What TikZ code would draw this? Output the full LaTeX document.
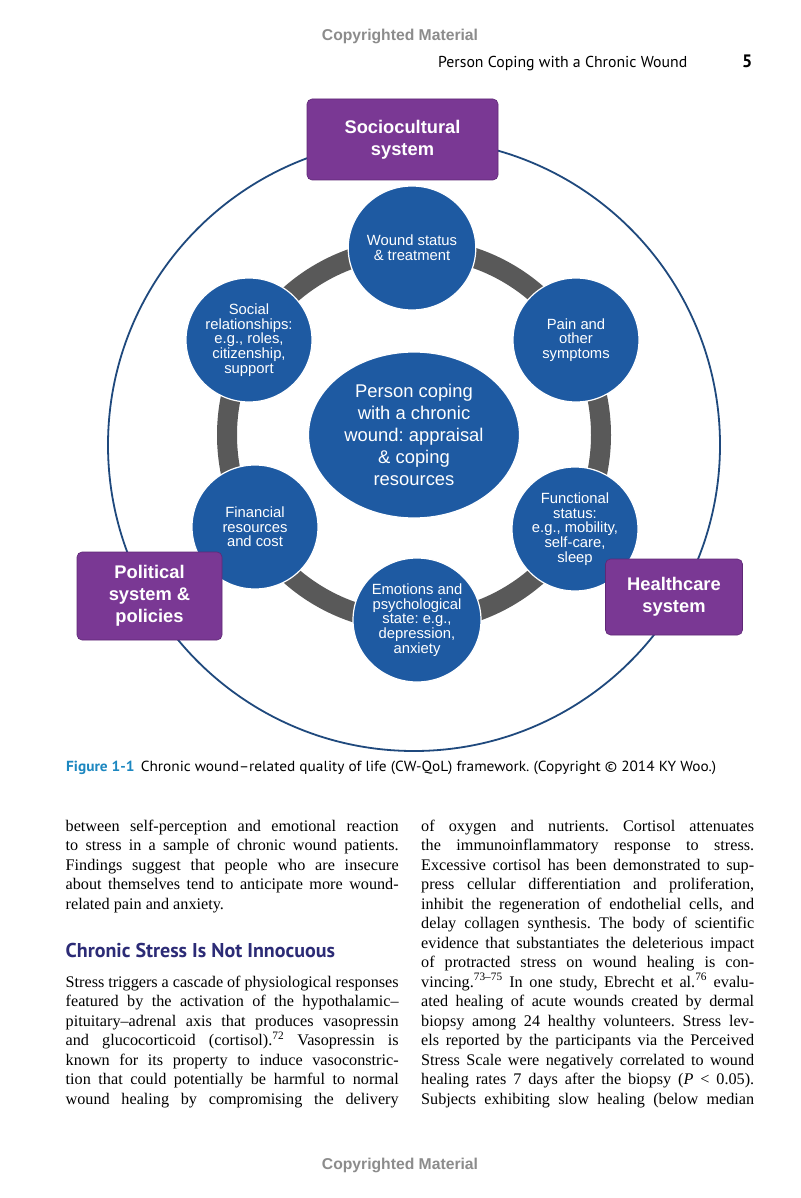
\documentclass[tikz,border=0pt]{standalone}
\usepackage{fontspec}
\setmainfont{Liberation Serif}
\setsansfont{Liberation Sans}
\newfontfamily\arialf{Liberation Sans}
\newfontfamily\ptsans{PT Sans}
\usetikzlibrary{shapes.geometric}
\definecolor{nodeblue}{RGB}{30,90,162}
\definecolor{boxpurple}{RGB}{122,56,148}
\definecolor{boxedge}{RGB}{95,40,118}
\definecolor{ringgray}{RGB}{89,89,89}
\definecolor{outerblue}{RGB}{31,73,125}
\definecolor{capblue}{RGB}{28,135,192}
\definecolor{headnavy}{RGB}{44,43,118}
\definecolor{copygray}{RGB}{140,140,140}
\newlength\colw
\setlength\colw{333pt}
\newcommand\jl[1]{\makebox[\colw][s]{#1}}
\newcommand\rl[1]{\makebox[\colw][l]{#1}}
\frenchspacing
\begin{document}
\begin{tikzpicture}[x=1pt,y=-1pt,
  bubble/.style={ellipse, fill=nodeblue, draw=white, line width=1.2pt, inner sep=0pt,
    minimum width=126pt, minimum height=124pt, text=white, align=center,
    font=\arialf\fontsize{14.8}{14.7}\selectfont},
  bigbubble/.style={bubble, minimum width=211pt, minimum height=166pt,
    font=\arialf\fontsize{18.4}{22}\selectfont},
  sysbox/.style={rectangle, rounded corners=5pt, fill=boxpurple, draw=boxedge, line width=0.6pt,
    inner sep=0pt, text=white, align=center,
    font=\arialf\bfseries\fontsize{18.3}{22}\selectfont},
  bodyline/.style={anchor=base west, inner sep=0pt, font=\fontsize{16.2}{19.5}\selectfont\frenchspacing},
  copy/.style={text=copygray, inner sep=0pt, font=\arialf\bfseries\fontsize{15.7}{17}\selectfont}
]
\useasboundingbox[fill=white] (0,0) rectangle (800,1198);

% header
\node[copy, anchor=base] (copytop) at (400,41) {Copyrighted Material};
\node[anchor=base west, inner sep=0pt, font=\ptsans\fontsize{15.8}{17}\selectfont] (runhead) at (438,68) {Person Coping with a Chronic Wound};
\node[anchor=base west, inner sep=0pt, font=\ptsans\bfseries\fontsize{18}{20}\selectfont] (pagenum) at (742,68) {5};

% diagram
\draw[outerblue, line width=1.8pt] (414,445) circle[radius=306];
\draw[ringgray, line width=20pt] (414,435) circle[radius=187];

\node[bigbubble] (center) at (414,435) {Person coping\\with a chronic\\wound: appraisal\\\& coping\\resources};
\node[bubble] (wound) at (412,248) {Wound status\\\& treatment};
\node[bubble] (pain) at (576,340) {Pain and\\other\\symptoms};
\node[bubble] (func) at (575,529) {Functional\\status:\\e.g., mobility,\\self-care,\\sleep};
\node[bubble] (emo) at (417,620) {Emotions and\\psychological\\state: e.g.,\\depression,\\anxiety};
\node[bubble] (fin) at (255,527) {Financial\\resources\\and cost};
\node[bubble] (social) at (249,340) {Social\\relationships:\\e.g., roles,\\citizenship,\\support};

\node[sysbox, minimum width=191pt, minimum height=81pt] (socio) at (402.5,139.5) {Sociocultural\\system};
\node[sysbox, minimum width=145pt, minimum height=88pt] (polit) at (149.5,596) {Political\\system \&\\policies};
\node[sysbox, minimum width=137pt, minimum height=76pt] (health) at (674,597) {Healthcare\\system};

% caption
\node[anchor=base west, inner sep=0pt, font=\ptsans\fontsize{14.6}{16}\selectfont] (caption) at (66,771)
  {\scalebox{1.05}[1]{{\bfseries\color{capblue}Figure 1-1}\hspace{6pt}Chronic wound–related quality of life (CW-QoL) framework. (Copyright © 2014 KY Woo.)}};

% left column
\node[bodyline] (l1) at (65.5,831) {\jl{between self-perception and emotional reaction}};
\node[bodyline] (l2) at (65.5,850.5) {\jl{to stress in a sample of chronic wound patients.}};
\node[bodyline] (l3) at (65.5,870) {\jl{Findings suggest that people who are insecure}};
\node[bodyline] (l4) at (65.5,889.5) {\jl{about themselves tend to anticipate more wound-}};
\node[bodyline] (l5) at (65.5,909) {\rl{related pain and anxiety.}};

\node[anchor=base west, inner sep=0pt, text=headnavy, font=\ptsans\bfseries\fontsize{20}{22}\selectfont] (heading) at (65.5,957) {Chronic Stress Is Not Innocuous};

\node[bodyline] (l6) at (65.5,987) {\jl{Stress triggers a cascade of physiological responses}};
\node[bodyline] (l7) at (65.5,1006.5) {\jl{featured by the activation of the hypothalamic–}};
\node[bodyline] (l8) at (65.5,1026) {\jl{pituitary–adrenal axis that produces vasopressin}};
\node[bodyline] (l9) at (65.5,1045.5) {\jl{and glucocorticoid (cortisol).\textsuperscript{72} Vasopressin is}};
\node[bodyline] (l10) at (65.5,1065) {\jl{known for its property to induce vasoconstric-}};
\node[bodyline] (l11) at (65.5,1084.5) {\jl{tion that could potentially be harmful to normal}};
\node[bodyline] (l12) at (65.5,1104) {\jl{wound healing by compromising the delivery}};

% right column
\node[bodyline] (r1) at (421,831) {\jl{of oxygen and nutrients. Cortisol attenuates}};
\node[bodyline] (r2) at (421,850.5) {\jl{the immunoinflammatory response to stress.}};
\node[bodyline] (r3) at (421,870) {\jl{Excessive cortisol has been demonstrated to sup-}};
\node[bodyline] (r4) at (421,889.5) {\jl{press cellular differentiation and proliferation,}};
\node[bodyline] (r5) at (421,909) {\jl{inhibit the regeneration of endothelial cells, and}};
\node[bodyline] (r6) at (421,928.5) {\jl{delay collagen synthesis. The body of scientific}};
\node[bodyline] (r7) at (421,948) {\jl{evidence that substantiates the deleterious impact}};
\node[bodyline] (r8) at (421,967.5) {\jl{of protracted stress on wound healing is con-}};
\node[bodyline] (r9) at (421,987) {\jl{vincing.\textsuperscript{73–75} In one study, Ebrecht et al.\textsuperscript{76} evalu-}};
\node[bodyline] (r10) at (421,1006.5) {\jl{ated healing of acute wounds created by dermal}};
\node[bodyline] (r11) at (421,1026) {\jl{biopsy among 24 healthy volunteers. Stress lev-}};
\node[bodyline] (r12) at (421,1045.5) {\jl{els reported by the participants via the Perceived}};
\node[bodyline] (r13) at (421,1065) {\jl{Stress Scale were negatively correlated to wound}};
\node[bodyline] (r14) at (421,1084.5) {\jl{healing rates 7 days after the biopsy (\textit{P} < 0.05).}};
\node[bodyline] (r15) at (421,1104) {\jl{Subjects exhibiting slow healing (below median}};

\node[copy, anchor=base] (copybot) at (400,1169) {Copyrighted Material};
\end{tikzpicture}
\end{document}
